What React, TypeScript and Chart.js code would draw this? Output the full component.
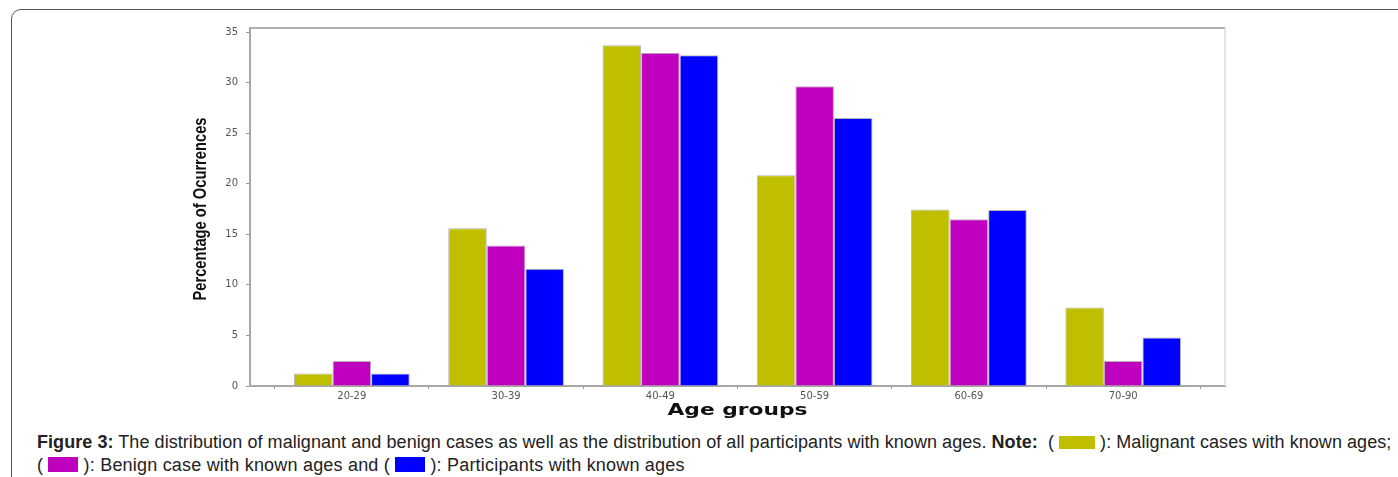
import React, { useEffect, useRef } from "react";
import { Chart, registerables } from "chart.js";

Chart.register(...registerables);

const ageGroups = ["20-29", "30-39", "40-49", "50-59", "60-69", "70-90"];
const malignant = [1.23, 15.6, 33.7, 20.85, 17.45, 7.75];
const benign = [2.48, 13.9, 32.95, 29.65, 16.5, 2.48];
const participants = [1.23, 11.6, 32.7, 26.5, 17.4, 4.79];
const yTicks = [0, 5, 10, 15, 20, 25, 30, 35];

const X_TITLE = "Age groups";
const Y_TITLE = "Percentage of Ocurrences";

const YELLOW = "#bfbf00";
const MAGENTA = "#bf00bf";
const BLUE = "#0000ff";

function drawStretched(ctx: any, text: string, font: string, targetW: number, cx: number, cy: number, rot: number) {
  ctx.save();
  ctx.font = font;
  ctx.fillStyle = "#111";
  ctx.textAlign = "center";
  ctx.textBaseline = "middle";
  const w = ctx.measureText(text).width;
  ctx.translate(cx, cy);
  ctx.rotate(rot);
  ctx.scale(targetW / w, 1);
  ctx.fillText(text, 0, 0);
  ctx.restore();
}

const framePlugin = {
  id: "frame",
  afterDraw(chart: any) {
    const { ctx, chartArea } = chart;
    ctx.save();
    ctx.strokeStyle = "#b0b0b0";
    ctx.lineWidth = 2;
    ctx.beginPath();
    ctx.moveTo(chartArea.left, chartArea.top);
    ctx.lineTo(chartArea.right, chartArea.top);
    ctx.stroke();
    ctx.strokeStyle = "#dadada";
    ctx.lineWidth = 1.5;
    ctx.beginPath();
    ctx.moveTo(chartArea.right, chartArea.top);
    ctx.lineTo(chartArea.right, chartArea.bottom);
    ctx.stroke();
    ctx.restore();
    const midX = (chartArea.left + chartArea.right) / 2;
    const midY = (chartArea.top + chartArea.bottom) / 2;
    drawStretched(ctx, X_TITLE, "bold 16px 'DejaVu Sans'", 140, midX, chartArea.bottom + 25, 0);
    drawStretched(ctx, Y_TITLE, "bold 19px 'Liberation Sans'", 183, chartArea.left - 49, midY + 2, -Math.PI / 2);
  },
};

function toPoints(vals: number[]) {
  return vals.map((v, i) => ({ x: i, y: v }));
}

export default function App() {
  const ref = useRef<HTMLCanvasElement>(null);

  useEffect(() => {
    if (!ref.current) return;
    const mk = (label: string, vals: number[], color: string) => ({
      label,
      data: toPoints(vals),
      backgroundColor: color,
      borderColor: "rgba(90,90,90,0.45)",
      borderWidth: 1,
      categoryPercentage: 0.75,
      barPercentage: 1.0,
    });
    const chart = new Chart(ref.current, {
      type: "bar",
      data: {
        datasets: [
          mk("Malignant cases with known ages", malignant, YELLOW),
          mk("Benign case with known ages", benign, MAGENTA),
          mk("Participants with known ages", participants, BLUE),
        ],
      },
      options: {
        animation: false,
        responsive: true,
        maintainAspectRatio: false,
        layout: { padding: { left: 150, right: 173, top: 28, bottom: 0 } },
        plugins: { legend: { display: false }, tooltip: { enabled: false } },
        scales: {
          x: {
            type: "linear",
            offset: false,
            min: -0.66,
            max: 5.66,
            afterFit: (s: any) => {
              s.height = 44;
            },
            ticks: {
              stepSize: 1,
              includeBounds: false,
              autoSkip: false,
              maxRotation: 0,
              padding: 1,
              color: "#555",
              font: { family: "DejaVu Sans", size: 10 },
              callback: (v: any) => {
                const n = Number(v);
                return Number.isInteger(n) && ageGroups[n] ? ageGroups[n] : "";
              },
            },
            grid: {
              drawOnChartArea: false,
              drawTicks: true,
              tickLength: 3,
              color: "#999",
            },
            border: { display: true, color: "#a8a8a8", width: 2 },
            title: { display: false },
          },
          y: {
            min: 0,
            max: 35.4,
            afterFit: (s: any) => {
              s.width = 100;
            },
            afterBuildTicks: (s: any) => {
              s.ticks = yTicks.map((v) => ({ value: v }));
            },
            ticks: {
              color: "#555",
              padding: 8,
              font: { family: "DejaVu Sans", size: 10 },
            },
            grid: {
              drawOnChartArea: false,
              drawTicks: true,
              tickLength: 4,
              color: "#999",
            },
            border: { display: true, color: "#a8a8a8", width: 2 },
            title: { display: false },
          },
        },
      },
      plugins: [framePlugin],
    } as any);
    return () => chart.destroy();
  }, []);

  const sw = (color: string, w: number, h: number) => (
    <span
      style={{
        display: "inline-block",
        width: w,
        height: h,
        background: color,
        verticalAlign: "-1px",
      }}
    />
  );

  return (
    <div
      style={{
        position: "absolute",
        left: 0,
        top: 0,
        width: 1398,
        height: 477,
        overflow: "hidden",
        background: "#fff",
      }}
    >
      <div
        style={{
          position: "absolute",
          left: 11,
          top: 9,
          width: 1420,
          height: 520,
          border: "1.5px solid #555",
          borderRadius: 10,
          boxSizing: "border-box",
        }}
      />
      <div style={{ position: "absolute", left: 0, top: 0, width: 1398, height: 430 }}>
        <canvas ref={ref} />
      </div>
      <div
        style={{
          position: "absolute",
          left: 37,
          top: 431,
          width: 1380,
          fontFamily: "'Liberation Sans', Arial, sans-serif",
          fontSize: 18,
          lineHeight: "23px",
          color: "#222",
          whiteSpace: "nowrap",
        }}
      >
        <div style={{ letterSpacing: "0.06px" }}>
          <b>Figure 3:</b> The distribution of malignant and benign cases as well as the distribution of all participants with known ages. <b>Note:</b>&nbsp; ( {sw(YELLOW, 36, 13)} ): Malignant cases with known ages;
        </div>
        <div style={{ letterSpacing: "0.2px" }}>
          ( {sw(MAGENTA, 30, 15)} ): Benign case with known ages and ( {sw(BLUE, 30, 15)} ): Participants with known ages
        </div>
      </div>
    </div>
  );
}
